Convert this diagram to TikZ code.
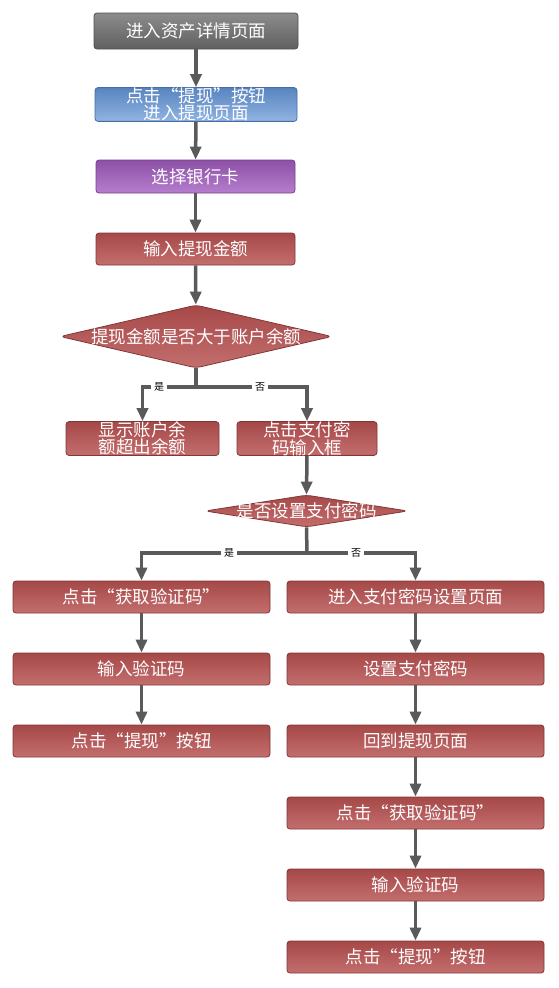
\documentclass[tikz,border=0pt]{standalone}
\usepackage{fontspec}
\setmainfont{Noto Sans CJK SC}
\usetikzlibrary{arrows.meta,shapes.geometric}
\definecolor{arrowgray}{HTML}{5A5A5A}
\definecolor{redtop}{RGB}{166,72,72}
\definecolor{redbot}{RGB}{196,110,110}
\definecolor{redline}{RGB}{130,55,55}
\definecolor{graytop}{RGB}{140,140,140}
\definecolor{graybot}{RGB}{96,96,96}
\definecolor{grayline}{RGB}{80,80,80}
\definecolor{bluetop}{RGB}{88,132,192}
\definecolor{bluebot}{RGB}{145,180,226}
\definecolor{blueline}{RGB}{70,110,165}
\definecolor{purptop}{RGB}{140,80,166}
\definecolor{purpbot}{RGB}{182,126,206}
\definecolor{purpline}{RGB}{118,66,140}
\tikzset{
  box/.style={rectangle, rounded corners=3pt, draw=#1, line width=0.8pt, inner sep=0pt,
    text=white, font=\fontsize{17.5}{17.5}\selectfont, align=center},
  redbox/.style={box=redline, top color=redtop, bottom color=redbot},
  graybox/.style={box=grayline, top color=graytop, bottom color=graybot},
  bluebox/.style={box=blueline, top color=bluetop, bottom color=bluebot},
  purplebox/.style={box=purpline, top color=purptop, bottom color=purpbot},
  decision/.style={diamond, rounded corners=5pt, draw=redline, line width=0.8pt, inner sep=0pt,
    top color=redtop, bottom color=redbot,
    text=white, font=\fontsize{17.5}{17.5}\selectfont},
  arr/.style={draw=arrowgray, line width=3.5pt, -{Triangle[width=11pt,length=13pt]}},
  ln/.style={draw=arrowgray, line width=3.5pt},
  lab/.style={fill=white, inner sep=3pt, font=\fontsize{10}{10}\selectfont, text=black}
}
\begin{document}
\begin{tikzpicture}[x=1pt,y=-1pt]
\useasboundingbox[fill=white] (0,0) rectangle (558,988);
% main column
\node[graybox, minimum width=204pt, minimum height=36pt] (n1) at (196,31) {进入资产详情页面};
\node[bluebox, minimum width=202pt, minimum height=33pt] (n2) at (196,104.5) {点击“提现”按钮\\进入提现页面};
\node[purplebox, minimum width=199pt, minimum height=33pt] (n3) at (195.5,176.5) {选择银行卡};
\node[redbox, minimum width=199pt, minimum height=32pt] (n4) at (195.5,249) {输入提现金额};
\node[decision, minimum width=272pt, minimum height=63pt] (d1) at (196,336.5) {\makebox[0pt]{提现金额是否大于账户余额}};
\node[redbox, minimum width=153pt, minimum height=33pt] (n5) at (142.5,438.5) {显示账户余\\额超出余额};
\node[redbox, minimum width=140pt, minimum height=33pt] (n6) at (307,438.5) {点击支付密\\码输入框};
\node[decision, minimum width=203pt, minimum height=32pt] (d2) at (306.5,511) {\makebox[0pt]{是否设置支付密码}};
% left column
\node[redbox, minimum width=257pt, minimum height=32pt] (l1) at (141.5,597) {点击“获取验证码”};
\node[redbox, minimum width=257pt, minimum height=32pt] (l2) at (141.5,669) {输入验证码};
\node[redbox, minimum width=257pt, minimum height=32pt] (l3) at (141.5,741) {点击“提现”按钮};
% right column
\node[redbox, minimum width=257pt, minimum height=32pt] (r1) at (415.5,597) {进入支付密码设置页面};
\node[redbox, minimum width=257pt, minimum height=32pt] (r2) at (415.5,669) {设置支付密码};
\node[redbox, minimum width=257pt, minimum height=32pt] (r3) at (415.5,741) {回到提现页面};
\node[redbox, minimum width=257pt, minimum height=32pt] (r4) at (415.5,813) {点击“获取验证码”};
\node[redbox, minimum width=257pt, minimum height=32pt] (r5) at (415.5,885) {输入验证码};
\node[redbox, minimum width=257pt, minimum height=32pt] (r6) at (415.5,957) {点击“提现”按钮};
% connectors
\coordinate (j1) at (196,387);
\coordinate (j2) at (307,553);
\draw[arr] (n1) -- (n2);
\draw[arr] (n2) -- (n3);
\draw[arr] (n3) -- (n4);
\draw[arr] (n4) -- (d1);
\draw[ln] (d1.south) -- (j1);
\draw[arr] (j1) -| (n5.north);
\draw[arr] (j1) -| (n6.north);
\draw[arr] (n6.south) -- (d2.north);
\draw[ln] (d2.south) -- (j2);
\draw[arr] (j2) -| (l1.north);
\draw[arr] (j2) -| (r1.north);
\draw[arr] (l1) -- (l2);
\draw[arr] (l2) -- (l3);
\draw[arr] (r1) -- (r2);
\draw[arr] (r2) -- (r3);
\draw[arr] (r3) -- (r4);
\draw[arr] (r4) -- (r5);
\draw[arr] (r5) -- (r6);
\node[lab] (y1) at (159,387) {是};
\node[lab] (no1) at (260,387) {否};
\node[lab] (y2) at (229,553) {是};
\node[lab] (no2) at (356,553) {否};
\end{tikzpicture}
\end{document}
